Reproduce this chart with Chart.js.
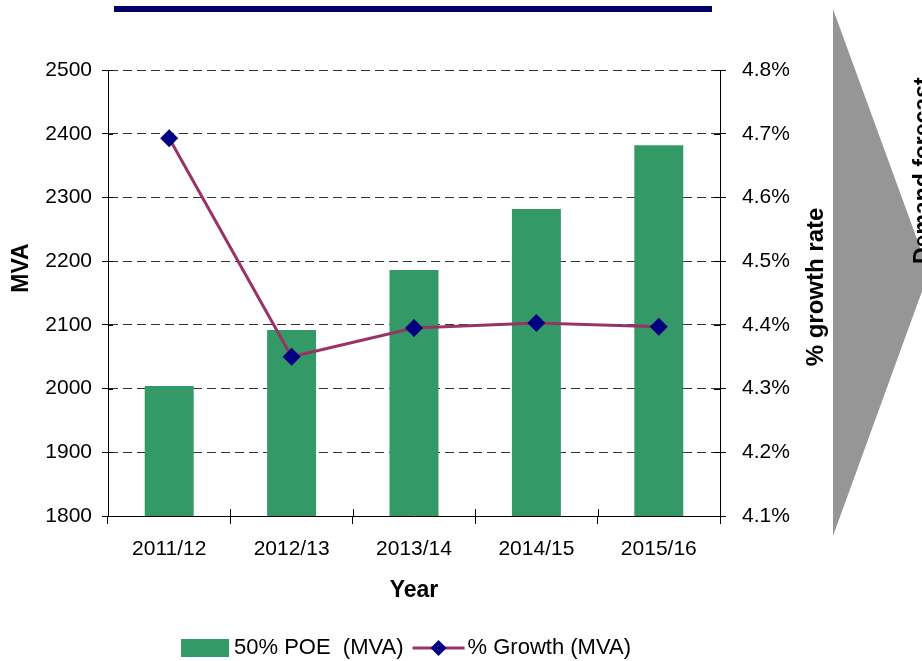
<!DOCTYPE html>
<html><head><meta charset="utf-8">
<script src="https://cdn.jsdelivr.net/npm/chart.js@4/dist/chart.umd.min.js"></script>
<style>html,body{margin:0;padding:0;background:#fff;}#wrap{width:922px;height:661px;}</style>
</head><body><div id="wrap"><canvas id="c" width="922" height="661"></canvas></div>
<script>
const categories = ['2011/12', '2012/13', '2013/14', '2014/15', '2015/16'];
const poeMVA = [2004, 2092, 2186, 2282, 2382];
const growthPct = [4.693, 4.350, 4.395, 4.403, 4.397];
const seriesLabels = ['50% POE  (MVA)', '% Growth (MVA)'];
const leftAxisRange = [1800, 2500, 100];
const rightAxisRange = [4.1, 4.8, 0.1];
const axisTitles = ['Year', 'MVA', '% growth rate'];
const arrowText = 'Demand forecast';

const FONT = "'Liberation Sans', Arial, sans-serif";
Chart.defaults.font.family = FONT;
Chart.defaults.color = '#000';

const BAR = '#339966', LINE = '#993366', MARK = '#000080';

function rotText(ctx, text, cx, cy, font) {
  ctx.save();
  ctx.translate(cx, cy); ctx.rotate(-Math.PI / 2);
  ctx.font = font; ctx.fillStyle = '#000';
  ctx.textAlign = 'center'; ctx.textBaseline = 'middle';
  ctx.fillText(text, 0, 0);
  ctx.restore();
}

const deco = {
  id: 'deco',
  afterDraw(chart) {
    const ctx = chart.ctx;
    const a = chart.chartArea;
    const xs = chart.scales.x, ys = chart.scales.y, y1 = chart.scales.y1;
    ctx.save();
    // inner tick marks
    ctx.strokeStyle = '#000'; ctx.lineWidth = 1; ctx.setLineDash([]);
    ys.ticks.forEach(t => {
      const py = Math.round(ys.getPixelForValue(t.value)) + 0.5;
      ctx.beginPath(); ctx.moveTo(a.left, py); ctx.lineTo(a.left + 5, py); ctx.stroke();
    });
    y1.ticks.forEach(t => {
      const py = Math.round(y1.getPixelForValue(t.value)) + 0.5;
      ctx.beginPath(); ctx.moveTo(a.right - 6, py); ctx.lineTo(a.right, py); ctx.stroke();
    });
    const half = (xs.getPixelForValue(1) - xs.getPixelForValue(0)) / 2;
    for (let i = 0; i <= categories.length; i++) {
      const px = Math.round(xs.getPixelForValue(0) - half + i * 2 * half) + 0.5;
      ctx.beginPath(); ctx.moveTo(px, a.bottom - 7); ctx.lineTo(px, a.bottom); ctx.stroke();
    }
    // axis titles (vertical)
    rotText(ctx, axisTitles[1], 22, 268, 'bold 23px ' + FONT);
    rotText(ctx, axisTitles[2], 816, 287, 'bold 24px ' + FONT);
    // top navy bar
    ctx.fillStyle = '#000066';
    ctx.fillRect(114, 6, 598, 6);
    // gray arrow
    ctx.fillStyle = '#969696';
    ctx.beginPath(); ctx.moveTo(833, 9); ctx.lineTo(929, 272); ctx.lineTo(833, 536); ctx.closePath(); ctx.fill();
    // rotated text (mostly clipped by canvas edge)
    ctx.save();
    ctx.translate(912, 264); ctx.rotate(-Math.PI / 2);
    ctx.fillStyle = '#000'; ctx.font = 'bold 23px ' + FONT; ctx.textBaseline = 'top'; ctx.textAlign = 'left';
    ctx.fillText(arrowText, 0, 0);
    ctx.restore();
    // legend
    ctx.font = '22px ' + FONT; ctx.textBaseline = 'middle'; ctx.textAlign = 'left';
    const ds = chart.data.datasets;
    const w1 = ctx.measureText(ds[0].label).width, w2 = ctx.measureText(ds[1].label).width;
    const total = 48 + 5 + w1 + 9 + 52 + 3 + w2;
    let x = 406 - total / 2; const ly = 648;
    ctx.fillStyle = BAR; ctx.fillRect(x, ly - 9, 48, 18);
    x += 53; ctx.fillStyle = '#000'; ctx.fillText(ds[0].label, x, ly);
    x += w1 + 9;
    ctx.strokeStyle = LINE; ctx.lineWidth = 3;
    ctx.beginPath(); ctx.moveTo(x, ly); ctx.lineTo(x + 52, ly); ctx.stroke();
    const cx = x + 26;
    ctx.fillStyle = MARK; ctx.beginPath();
    ctx.moveTo(cx, ly - 8); ctx.lineTo(cx + 8, ly); ctx.lineTo(cx, ly + 8); ctx.lineTo(cx - 8, ly); ctx.closePath(); ctx.fill();
    x += 55; ctx.fillStyle = '#000'; ctx.fillText(ds[1].label, x, ly);
    ctx.restore();
  }
};

new Chart(document.getElementById('c'), {
  type: 'bar',
  data: {
    labels: categories,
    datasets: [
      { type: 'bar', label: seriesLabels[0], data: poeMVA, yAxisID: 'y', xAxisID: 'x',
        backgroundColor: BAR, borderWidth: 0, barPercentage: 0.4, categoryPercentage: 1.0, order: 1 },
      { type: 'line', label: seriesLabels[1], data: growthPct, yAxisID: 'y1', xAxisID: 'x',
        borderColor: LINE, borderWidth: 3, pointStyle: 'rectRot', pointRadius: 9,
        pointBackgroundColor: MARK, pointBorderColor: MARK, pointBorderWidth: 0, tension: 0, order: 0 }
    ]
  },
  options: {
    responsive: false, animation: false, devicePixelRatio: 1,
    layout: { padding: { left: 10, right: 92, top: 70, bottom: 45 } },
    plugins: { legend: { display: false }, tooltip: { enabled: false } },
    scales: {
      x: {
        offset: true,
        grid: { offset: true, drawOnChartArea: false, drawTicks: true, tickLength: 8, color: '#000', tickColor: '#000' },
        border: { display: true, color: '#000', width: 1 },
        ticks: { font: { size: 21 }, color: '#000', padding: 13, maxRotation: 0 },
        title: { display: true, text: axisTitles[0], font: { size: 23, weight: 'bold' }, color: '#000', padding: { top: 0, bottom: 12 } },
        afterFit(s) { s.height = 100; }
      },
      y: {
        position: 'left', min: leftAxisRange[0], max: leftAxisRange[1],
        ticks: { stepSize: leftAxisRange[2], font: { size: 21 }, color: '#000', padding: 10,
          callback: v => String(v) },
        grid: { color: '#333', lineWidth: 1, tickLength: 6, tickColor: '#000', tickBorderDash: [] },
        border: { display: true, color: '#000', width: 1, dash: [9, 5] },
        afterFit(s) { s.width = 98; }
      },
      y1: {
        position: 'right', min: rightAxisRange[0], max: rightAxisRange[1],
        ticks: { stepSize: rightAxisRange[2], font: { size: 21 }, color: '#000', padding: 16,
          callback: v => Number(v).toFixed(1) + '%' },
        grid: { drawOnChartArea: false, tickLength: 6, tickColor: '#000', tickBorderDash: [] },
        border: { display: true, color: '#000', width: 1 },
        afterFit(s) { s.width = 110; }
      }
    }
  },
  plugins: [deco]
});
</script></body></html>
